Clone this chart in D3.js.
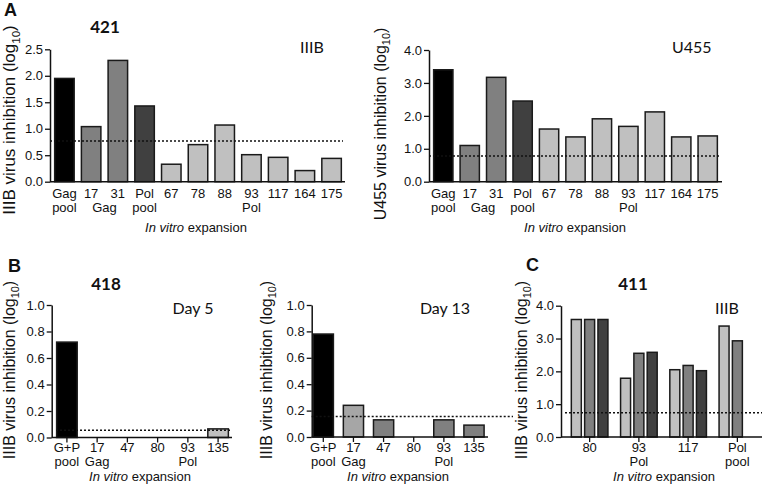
<!DOCTYPE html>
<html><head><meta charset="utf-8">
<script src="https://cdn.jsdelivr.net/npm/d3@7"></script>
<style>
body{margin:0;background:#fff}
svg{display:block}
text{font-family:"Liberation Sans",Arial,sans-serif;fill:#111}
.cal{font-family:Lato,"Open Sans",sans-serif}
</style>
</head><body>
<svg id="chart" width="762" height="491"></svg>
<script>
// ---------------- data ----------------
const catsA = ["Gag pool","17","31","Pol pool","67","78","88","93","117","164","175"];
const valsA_IIIB = [1.95,1.04,2.29,1.43,0.33,0.70,1.07,0.51,0.46,0.21,0.44];
const valsA_U455 = [3.40,1.10,3.17,2.45,1.60,1.36,1.91,1.68,2.12,1.36,1.39];
const thrA_IIIB = 0.77;
const thrA_U455 = 0.78;
const groupsA = [{label:"Gag",members:["17","31"]},{label:"Pol",members:["67","175"]}];
const ticksA_IIIB = [0,0.5,1.0,1.5,2.0,2.5];
const ticksA_U455 = [0,1,2,3,4];

const catsB = ["G+P pool","17","47","80","93","135"];
const valsB_day5 = [0.72,0,0,0,0,0.065];
const valsB_day13 = [0.78,0.24,0.13,0,0.13,0.09];
const thrB_day5 = 0.055;
const thrB_day13 = 0.155;
const groupsB = [{label:"Gag",members:["17"]},{label:"Pol",members:["93"]}];
const ticksB = [0,0.2,0.4,0.6,0.8,1.0];

const catsC = ["80","93","117","Pol pool"];
const seriesC = ["s1","s2","s3"];
const valsC_s1 = [3.58,1.79,2.05,3.38];
const valsC_s2 = [3.58,2.55,2.18,2.93];
const valsC_s3 = [3.58,2.58,2.02,null];
const thrC = 0.74;
const groupsC = [{label:"Pol",members:["93"]}];
const ticksC = [0,1,2,3,4];

// ---------------- styles ----------------
const BLACK="#000000", MID="#808080", DARK="#404040", LIGHT="#c0c0c0", MIDL="#a6a6a6";
const colorsA = [BLACK,MID,MID,DARK,LIGHT,LIGHT,LIGHT,LIGHT,LIGHT,LIGHT,LIGHT];
const colorsB5 = [BLACK,LIGHT,LIGHT,LIGHT,LIGHT,LIGHT];
const colorsB13 = [BLACK,MIDL,MID,MID,MID,MID];
const colorsC = [LIGHT,MID,DARK];

const svg = d3.select("#chart");
const fmt = d3.format(".1f");

function yAxis(g, y, ax, ticks){
  const a = g.append("g").attr("transform",`translate(${ax},0)`)
    .call(d3.axisLeft(y).tickValues(ticks).tickFormat(fmt).tickSize(5).tickSizeOuter(0).tickPadding(2));
  a.select(".domain").attr("stroke","#111").attr("stroke-width",1.5);
  a.selectAll(".tick line").attr("stroke","#111").attr("stroke-width",1.3);
  a.selectAll(".tick text").attr("font-size",13).attr("fill","#111")
    .style("font-family",'"Liberation Sans",Arial,sans-serif');
}

function yTitle(x, cy, main, fs){
  const t = svg.append("text").attr("transform",`translate(${x},${cy}) rotate(-90)`)
    .attr("text-anchor","middle").attr("font-size",fs);
  t.append("tspan").text(main + " (log");
  t.append("tspan").attr("font-size",fs*0.68).attr("dy",fs*0.28).text("10");
  t.append("tspan").attr("dy",-fs*0.28).text(")");
}

function catLabels(g, cats, pos, b1, b2, groups){
  cats.forEach(c=>{
    const parts = c.split(" ");
    g.append("text").attr("x",pos(c)).attr("y",b1).attr("text-anchor","middle").attr("font-size",13).text(parts[0]);
    if(parts.length>1) g.append("text").attr("x",pos(c)).attr("y",b2).attr("text-anchor","middle").attr("font-size",13).text(parts.slice(1).join(" "));
  });
  groups.forEach(gr=>{
    const xs = gr.members.map(pos);
    g.append("text").attr("x",d3.mean([d3.min(xs),d3.max(xs)])).attr("y",b2)
      .attr("text-anchor","middle").attr("font-size",13).text(gr.label);
  });
}

function xTitle(cx, y){
  const t = svg.append("text").attr("x",cx).attr("y",y).attr("text-anchor","middle").attr("font-size",13);
  t.append("tspan").attr("font-style","italic").text("In vitro");
  t.append("tspan").text(" expansion");
}

function barPanel(o){
  const g = svg.append("g");
  const x = d3.scaleBand().domain(o.cats).range(o.xr).paddingInner(o.pi).paddingOuter(o.po);
  const y = d3.scaleLinear().domain([0,o.ymax]).range([o.y0,o.yt]);
  const data = o.cats.map((c,i)=>({c,v:o.vals[i],col:o.colors[i]})).filter(d=>d.v>0);
  g.selectAll("rect").data(data).join("rect")
    .attr("x",d=>x(d.c)).attr("y",d=>y(d.v))
    .attr("width",x.bandwidth()).attr("height",d=>y(0)-y(d.v))
    .attr("fill",d=>d.col).attr("stroke","#1a1a1a").attr("stroke-width",1.5);
  g.append("line").attr("x1",o.thr[0]).attr("x2",o.thr[1]).attr("y1",y(o.threshold)).attr("y2",y(o.threshold))
    .attr("stroke","#111").attr("stroke-width",1.5).attr("stroke-dasharray","2,2");
  g.append("line").attr("x1",o.ax).attr("x2",o.xEnd).attr("y1",y(0)).attr("y2",y(0))
    .attr("stroke","#111").attr("stroke-width",1.5);
  const pos = c=>x(c)+x.bandwidth()/2;
  if(o.xticks){
    o.cats.forEach(c=>g.append("line").attr("x1",pos(c)).attr("x2",pos(c)).attr("y1",y(0)).attr("y2",y(0)+5)
      .attr("stroke","#111").attr("stroke-width",1.3));
  }
  yAxis(g, y, o.ax, o.ticks);
  catLabels(g, o.cats, pos, o.b1, o.b2, o.groups);
}

// ---- Panel A left (IIIB) ----
barPanel({cats:catsA, vals:valsA_IIIB, colors:colorsA, xr:[52,344], pi:0.27, po:0.1,
  ymax:2.5, y0:181.7, yt:49.3, ax:50, xEnd:345, ticks:ticksA_IIIB,
  threshold:thrA_IIIB, thr:[50,343], xticks:false, b1:198, b2:212, groups:groupsA});
yTitle(15, 120, "IIIB virus inhibition", 17);
xTitle(196, 232);
svg.append("text").attr("x",105).attr("y",33).attr("text-anchor","middle").attr("font-size",17).attr("font-weight","bold").attr("class","cal").text("421");
svg.append("text").attr("x",300).attr("y",53).attr("font-size",16).attr("class","cal").text("IIIB");
svg.append("text").attr("x",4).attr("y",16).attr("font-size",18).attr("font-weight","bold").text("A");

// ---- Panel A right (U455) ----
barPanel({cats:catsA, vals:valsA_U455, colors:colorsA, xr:[431,720], pi:0.27, po:0.1,
  ymax:4, y0:181.7, yt:50, ax:429, xEnd:722, ticks:ticksA_U455,
  threshold:thrA_U455, thr:[429,719], xticks:false, b1:198, b2:212, groups:groupsA});
yTitle(386, 124, "U455 virus inhibition", 16);
xTitle(575, 232);
svg.append("text").attr("x",672).attr("y",53).attr("font-size",16).attr("class","cal").text("U455");

// ---- Panel B left (Day 5) ----
barPanel({cats:catsB, vals:valsB_day5, colors:colorsB5, xr:[53,232], pi:0.32, po:0.12,
  ymax:1.0, y0:437.5, yt:305, ax:51.7, xEnd:232, ticks:ticksB,
  threshold:thrB_day5, thr:[56,231], xticks:true, b1:452, b2:466, groups:groupsB});
yTitle(15, 370, "IIIB virus inhibition", 16);
xTitle(140, 481);
svg.append("text").attr("x",106).attr("y",290).attr("text-anchor","middle").attr("font-size",17).attr("font-weight","bold").attr("class","cal").text("418");
svg.append("text").attr("x",193).attr("y",314).attr("text-anchor","middle").attr("font-size",16).attr("class","cal").text("Day 5");
svg.append("text").attr("x",8).attr("y",272).attr("font-size",18).attr("font-weight","bold").text("B");

// ---- Panel B middle (Day 13) ----
barPanel({cats:catsB, vals:valsB_day13, colors:colorsB13, xr:[311.7,485.6], pi:0.33, po:0.05,
  ymax:1.0, y0:437, yt:305, ax:311.7, xEnd:488, ticks:ticksB,
  threshold:thrB_day13, thr:[311.7,513], xticks:true, b1:452, b2:466, groups:groupsB});
yTitle(271.5, 370, "IIIB virus inhibition", 16);
xTitle(398, 481);
svg.append("text").attr("x",445).attr("y",314).attr("text-anchor","middle").attr("font-size",16).attr("class","cal").text("Day 13");

// ---- Panel C (411) ----
(function(){
  const g = svg.append("g");
  const ax = 561, y0 = 437, yt = 305.7;
  const x0 = d3.scaleBand().domain(catsC).range([565,762]).padding(0);
  const x1 = d3.scaleBand().domain(seriesC).range([0,x0.bandwidth()]).paddingInner(0.25).paddingOuter(0.475);
  const y = d3.scaleLinear().domain([0,4]).range([y0,yt]);
  const vals = {s1:valsC_s1, s2:valsC_s2, s3:valsC_s3};
  const data = [];
  catsC.forEach((c,i)=>seriesC.forEach((s,j)=>{ if(vals[s][i]!=null) data.push({c,s,v:vals[s][i],col:colorsC[j]}); }));
  g.selectAll("rect").data(data).join("rect")
    .attr("x",d=>x0(d.c)+x1(d.s)).attr("y",d=>y(d.v))
    .attr("width",x1.bandwidth()).attr("height",d=>y(0)-y(d.v))
    .attr("fill",d=>d.col).attr("stroke","#1a1a1a").attr("stroke-width",1.5);
  g.append("line").attr("x1",565).attr("x2",762).attr("y1",y(thrC)).attr("y2",y(thrC))
    .attr("stroke","#111").attr("stroke-width",1.5).attr("stroke-dasharray","2,2");
  g.append("line").attr("x1",ax).attr("x2",762).attr("y1",y(0)).attr("y2",y(0))
    .attr("stroke","#111").attr("stroke-width",1.5);
  const pos = c=>x0(c)+x0.bandwidth()/2;
  catsC.forEach(c=>g.append("line").attr("x1",pos(c)).attr("x2",pos(c)).attr("y1",y(0)).attr("y2",y(0)+5)
    .attr("stroke","#111").attr("stroke-width",1.3));
  yAxis(g, y, ax, ticksC);
  catLabels(g, catsC, pos, 452, 466, groupsC);
})();
yTitle(526.5, 370, "IIIB virus inhibition", 16);
xTitle(664, 481);
svg.append("text").attr("x",633).attr("y",290).attr("text-anchor","middle").attr("font-size",17).attr("font-weight","bold").attr("class","cal").text("411");
svg.append("text").attr("x",715).attr("y",314).attr("font-size",16).attr("class","cal").text("IIIB");
svg.append("text").attr("x",526).attr("y",271).attr("font-size",18).attr("font-weight","bold").text("C");
</script>
</body></html>
